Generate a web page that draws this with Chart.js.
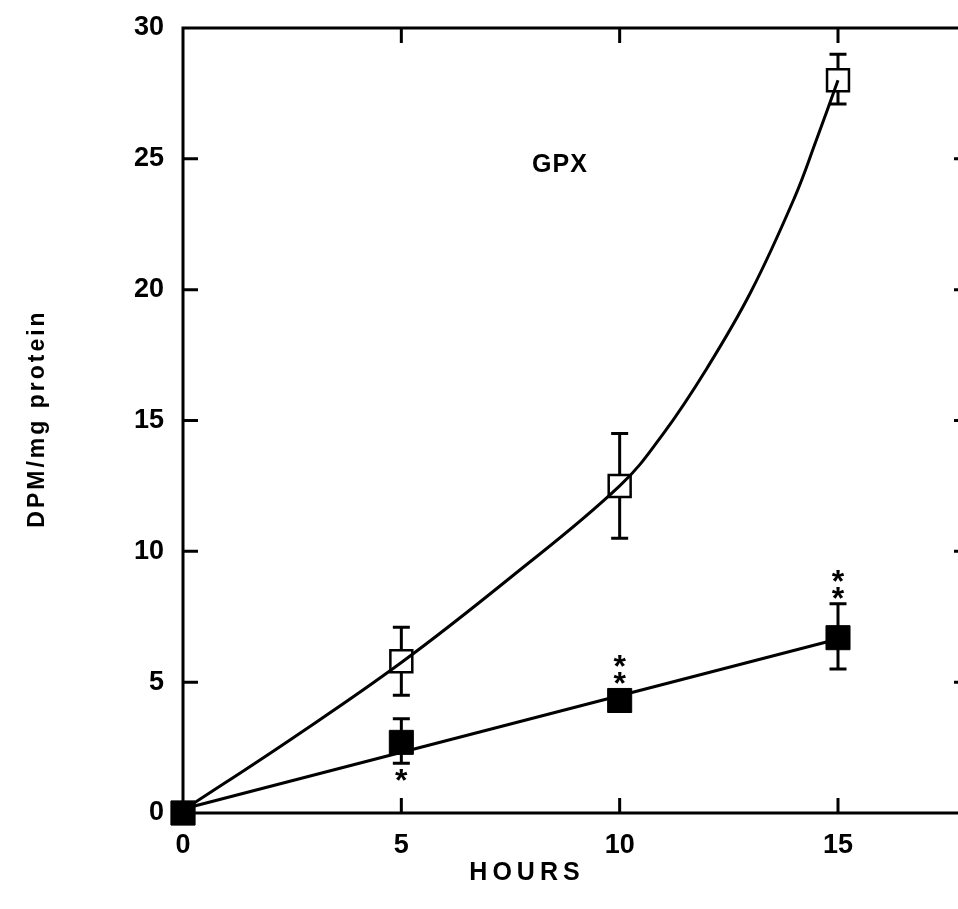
<!DOCTYPE html>
<html>
<head>
<meta charset="utf-8">
<script src="https://cdn.jsdelivr.net/npm/chart.js@4.4.1/dist/chart.umd.min.js"></script>
<style>
  html, body { margin: 0; padding: 0; background: #fff; overflow: hidden; }
  #wrap { width: 958px; height: 909px; overflow: hidden; }
  canvas { display: block; }
</style>
</head>
<body>
<div id="wrap"><canvas id="chart" width="990" height="909"></canvas></div>
<script>
// Temps (heures)
const hours = [0, 5, 10, 15];

// Témoin : carrés vides (moyenne, bas et haut de la barre d'erreur)
const ctrlMean = [0, 5.8, 12.5, 28.0];
const ctrlLow  = [0, 4.5, 10.5, 27.1];
const ctrlHigh = [0, 7.1, 14.5, 29.0];

// Traité : carrés pleins
const treatMean = [0, 2.7, 4.3, 6.7];
const treatLow  = [0, 1.9, 4.0, 5.5];
const treatHigh = [0, 3.6, 4.6, 8.0];

// Courbes tracées sur la figure (lues point par point)
const ctrlCurveX = [0, 2.5, 5, 7.5, 10, 11, 12, 13, 14, 14.5, 15];
const ctrlCurveY = [0.1, 2.85, 5.75, 9.0, 12.5, 14.5, 17.0, 19.9, 23.5, 25.7, 28.0];
const treatLineX = [0, 15];
const treatLineY = [0.15, 6.65];

// Étoiles de significativité
const starX = [5, 10, 10, 15, 15];
const starY = [1.45, 5.8, 5.15, 9.05, 8.4];

// Graduations
const xTicks = [0, 5, 10, 15];
const yTicks = [0, 5, 10, 15, 20, 25, 30];

const FONT = '"Liberation Sans", Arial, Helvetica, sans-serif';

const pts = (xs, ys) => xs.map((x, i) => ({ x: x, y: ys[i] }));

// Cadre, graduations intérieures, barres d'erreur et textes
const decor = {
    id: 'decor',
    beforeDatasetsDraw(chart) {
        const { ctx, scales: { x, y } } = chart;
        ctx.save();
        ctx.strokeStyle = '#000';
        ctx.lineWidth = 3;
        const bars = [[ctrlLow, ctrlHigh], [treatLow, treatHigh]];
        bars.forEach(([lo, hi]) => {
            hours.forEach((h, i) => {
                if (hi[i] <= lo[i]) return;
                const px = x.getPixelForValue(h);
                const y1 = y.getPixelForValue(hi[i]);
                const y2 = y.getPixelForValue(lo[i]);
                ctx.beginPath();
                ctx.moveTo(px, y1); ctx.lineTo(px, y2);
                ctx.moveTo(px - 8.5, y1); ctx.lineTo(px + 8.5, y1);
                ctx.moveTo(px - 8.5, y2); ctx.lineTo(px + 8.5, y2);
                ctx.stroke();
            });
        });
        ctx.restore();
    },
    afterDraw(chart) {
        const { ctx, chartArea: a, scales: { x, y } } = chart;
        ctx.save();
        ctx.strokeStyle = '#000';
        ctx.lineWidth = 3;
        ctx.strokeRect(a.left, a.top, a.right - a.left, a.bottom - a.top);

        // graduations vers l'intérieur
        const tl = 15;
        ctx.beginPath();
        xTicks.forEach(v => {
            if (v === 0) return;
            const px = x.getPixelForValue(v);
            ctx.moveTo(px, a.bottom); ctx.lineTo(px, a.bottom - tl);
            ctx.moveTo(px, a.top); ctx.lineTo(px, a.top + tl);
        });
        yTicks.forEach(v => {
            if (v === 0 || v === 30) return;
            const py = y.getPixelForValue(v);
            ctx.moveTo(a.left, py); ctx.lineTo(a.left + tl, py);
            ctx.moveTo(a.right, py); ctx.lineTo(a.right - tl, py);
        });
        ctx.stroke();

        ctx.fillStyle = '#000';
        ctx.textAlign = 'center';

        // étoiles
        ctx.font = 'bold 32px ' + FONT;
        ctx.textBaseline = 'alphabetic';
        const m = ctx.measureText('*');
        const off = (m.actualBoundingBoxAscent - m.actualBoundingBoxDescent) / 2;
        starX.forEach((sx, i) => {
            ctx.fillText('*', x.getPixelForValue(sx), y.getPixelForValue(starY[i]) + off);
        });

        ctx.textBaseline = 'middle';
        ctx.font = 'bold 25px ' + FONT;
        ctx.letterSpacing = '1px';
        ctx.fillText('GPX', 560, 165);

        ctx.letterSpacing = '5px';
        ctx.fillText('HOURS', 527, 873);

        ctx.font = 'bold 23px ' + FONT;
        ctx.letterSpacing = '3px';
        ctx.translate(38, (a.top + a.bottom) / 2);
        ctx.rotate(-Math.PI / 2);
        ctx.fillText('DPM/mg protein', 2, 0);
        ctx.restore();
    }
};

new Chart(document.getElementById('chart'), {
    type: 'scatter',
    data: {
        datasets: [
            {
                label: 'Traité',
                data: pts(hours, treatMean),
                pointStyle: 'rect',
                pointRadius: 17,
                pointHoverRadius: 17,
                backgroundColor: '#000',
                borderColor: '#000',
                borderWidth: 1,
                clip: false,
                order: 0
            },
            {
                type: 'line',
                label: 'Courbe témoin',
                data: pts(ctrlCurveX, ctrlCurveY),
                borderColor: '#000',
                borderWidth: 3,
                pointRadius: 0,
                tension: 0.4,
                fill: false,
                clip: false,
                order: 1
            },
            {
                type: 'line',
                label: 'Droite traité',
                data: pts(treatLineX, treatLineY),
                borderColor: '#000',
                borderWidth: 3,
                pointRadius: 0,
                fill: false,
                clip: false,
                order: 1
            },
            {
                label: 'Témoin',
                data: pts(hours, ctrlMean),
                pointStyle: 'rect',
                pointRadius: 15.5,
                pointHoverRadius: 15.5,
                backgroundColor: '#fff',
                borderColor: '#000',
                borderWidth: 2.5,
                clip: false,
                order: 2
            }
        ]
    },
    options: {
        responsive: false,
        animation: false,
        events: [],
        layout: { padding: { left: 0, top: 28, right: 21, bottom: 0 } },
        plugins: { legend: { display: false }, tooltip: { enabled: false } },
        scales: {
            x: {
                type: 'linear',
                min: 0,
                max: 18,
                afterBuildTicks: s => { s.ticks = xTicks.map(v => ({ value: v })); },
                afterFit: s => { s.height = 96; s.paddingLeft = 0; s.paddingRight = 0; },
                grid: { display: false, drawTicks: false },
                border: { display: false },
                ticks: { color: '#000', padding: 16, font: { family: FONT, size: 27, weight: 'bold' } }
            },
            y: {
                type: 'linear',
                min: 0,
                max: 30,
                afterBuildTicks: s => { s.ticks = yTicks.map(v => ({ value: v })); },
                afterFit: s => { s.width = 183; s.paddingTop = 0; s.paddingBottom = 0; },
                grid: { display: false, drawTicks: false },
                border: { display: false },
                ticks: { color: '#000', padding: 19, font: { family: FONT, size: 27, weight: 'bold' } }
            }
        }
    },
    plugins: [decor]
});
</script>
</body>
</html>
